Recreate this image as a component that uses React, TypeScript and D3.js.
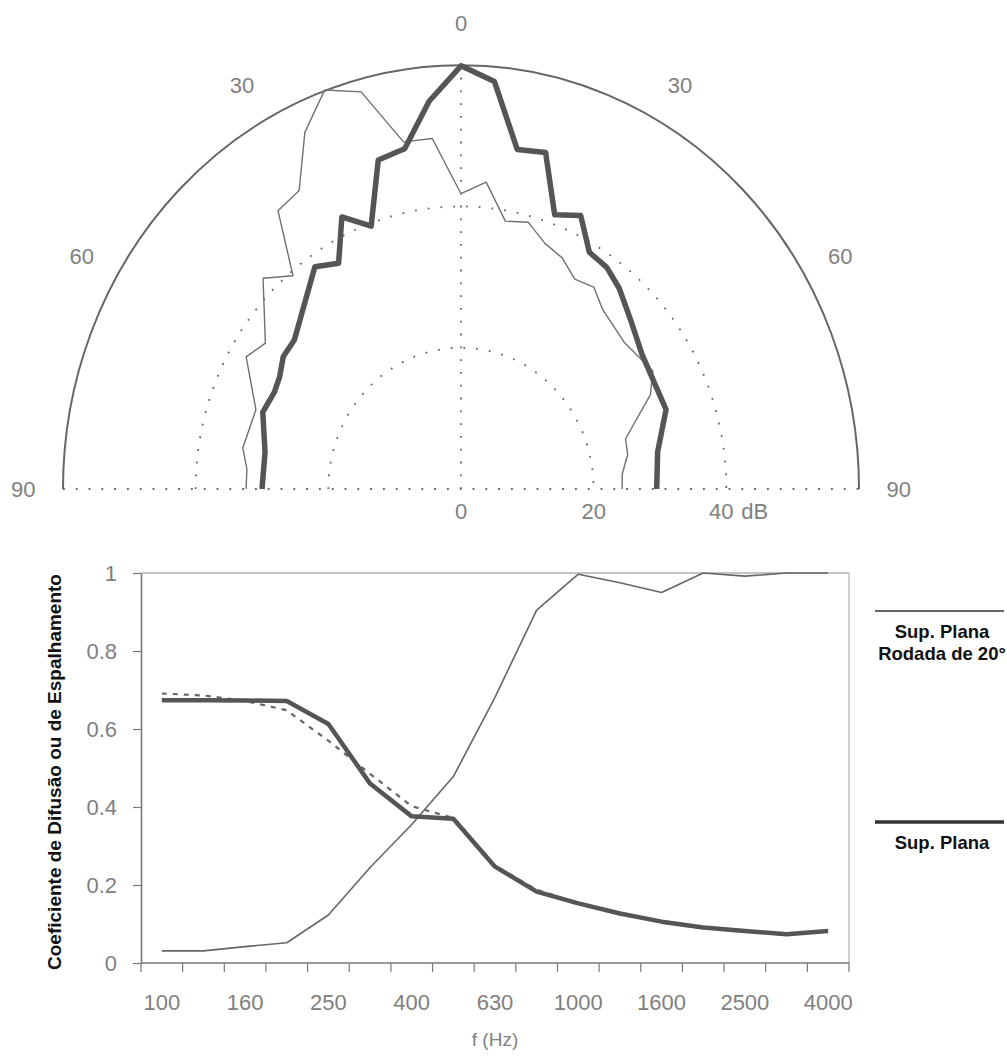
import React, { useEffect, useRef } from "react";
import * as d3 from "d3";

// polar diagram: angle (deg) and level (dB)
const planaAngles = [-90, -80, -70, -64, -60, -55, -50, -35, -30, -25, -20, -15, -10, -5, 0, 5, 10, 15, 20, 25, 30, 35, 40, 47, 55, 63, 70, 80, 90];
const planaDb = [30.0, 30.0, 31.8, 31.3, 31.6, 32.7, 32.8, 38.4, 36.9, 42.5, 39.6, 48.2, 48.9, 55.1, 59.9, 57.9, 48.8, 49.3, 41.3, 42.7, 38.7, 38.3, 37.1, 35.0, 33.3, 32.8, 32.9, 30.1, 29.5];

const rodadaAngles = [-90, -85, -80, -70, -60, -55, -45, -40, -35, -30, -25, -20, -15, -10, -5, 0, 5, 10, 15, 20, 25, 30, 35, 40, 50, 56, 60, 65, 74, 79, 85, 90];
const rodadaDb = [32.4, 32.4, 33.4, 32.9, 37.4, 36.0, 42.2, 39.4, 48.1, 48.8, 55.7, 60.1, 58.2, 49.9, 49.8, 41.8, 43.6, 38.5, 39.1, 37.0, 36.1, 34.3, 34.9, 33.2, 32.2, 32.8, 33.4, 31.5, 25.8, 25.6, 24.4, 24.3];

const angleLabels = [-90, -60, -30, 0, 30, 60, 90];
const dbRings = [20, 40];
const dbLabels = [0, 20, 40];

// diffusion coefficient per third-octave band
const bands = ["100", "125", "160", "200", "250", "315", "400", "500", "630", "800", "1000", "1250", "1600", "2000", "2500", "3150", "4000"];
const rodadaCoef = [0.031, 0.031, 0.042, 0.052, 0.123, 0.245, 0.355, 0.478, 0.681, 0.905, 0.997, 0.975, 0.95, 1.0, 0.992, 1.0, 1.0];
const planaCoef = [0.674, 0.674, 0.673, 0.672, 0.613, 0.46, 0.376, 0.37, 0.247, 0.183, 0.153, 0.127, 0.106, 0.091, 0.082, 0.074, 0.082];
const dashedCoef = [0.691, 0.686, 0.672, 0.648, 0.57, 0.485, 0.402, 0.372, 0.25, 0.188, 0.153, 0.127, 0.106, 0.091, 0.082, 0.074, 0.082];
const yTicks = [0, 0.2, 0.4, 0.6, 0.8, 1];
const bandLabels = ["100", "160", "250", "400", "630", "1000", "1600", "2500", "4000"];

const FONT = "'Liberation Sans', Arial, sans-serif";

export default function App() {
  const ref = useRef<SVGSVGElement>(null);

  useEffect(() => {
    const svg = d3.select(ref.current);
    svg.selectAll("*").remove();

    // ---------- polar ----------
    const cx = 461, cy = 489, stretch = 1.065;
    const r = d3.scaleLinear().domain([0, 60]).range([0, 398]);
    const rad = (a: number) => (a * Math.PI) / 180;

    const pg = svg.append("g").attr("transform", `translate(${cx},${cy}) scale(1,${stretch})`);

    const outer = d3.path();
    outer.arc(0, 0, r(60), Math.PI, 2 * Math.PI);
    pg.append("path").attr("d", outer.toString()).attr("fill", "none")
      .attr("stroke", "#666").attr("stroke-width", 2).attr("vector-effect", "non-scaling-stroke");

    dbRings.forEach(db => {
      const p = d3.path();
      p.arc(0, 0, r(db), Math.PI, 2 * Math.PI);
      pg.append("path").attr("d", p.toString()).attr("fill", "none")
        .attr("stroke", "#666").attr("stroke-width", 1.8).attr("stroke-dasharray", "1.8,11")
        .attr("vector-effect", "non-scaling-stroke");
    });

    pg.append("line").attr("x1", -r(60)).attr("x2", r(60)).attr("y1", 0).attr("y2", 0)
      .attr("stroke", "#666").attr("stroke-width", 1.8).attr("stroke-dasharray", "1.8,11")
      .attr("vector-effect", "non-scaling-stroke");
    pg.append("line").attr("x1", 0).attr("x2", 0).attr("y1", 0).attr("y2", -r(60))
      .attr("stroke", "#666").attr("stroke-width", 1.8).attr("stroke-dasharray", "1.8,11")
      .attr("vector-effect", "non-scaling-stroke");

    const radial = d3.lineRadial<[number, number]>()
      .angle(d => rad(d[0]))
      .radius(d => r(d[1]));

    pg.append("path").attr("d", radial(d3.zip(rodadaAngles, rodadaDb) as [number, number][]))
      .attr("fill", "none").attr("stroke", "#707070").attr("stroke-width", 1.4)
      .attr("stroke-linejoin", "round").attr("vector-effect", "non-scaling-stroke");
    pg.append("path").attr("d", radial(d3.zip(planaAngles, planaDb) as [number, number][]))
      .attr("fill", "none").attr("stroke", "#555").attr("stroke-width", 5.5)
      .attr("stroke-linejoin", "round").attr("vector-effect", "non-scaling-stroke");

    svg.selectAll(".angle-label").data(angleLabels).join("text")
      .attr("class", "angle-label")
      .attr("x", d => cx + r(66) * Math.sin(rad(d)))
      .attr("y", d => cy - r(66) * Math.cos(rad(d)) * stretch)
      .attr("dy", "0.36em")
      .attr("text-anchor", "middle")
      .attr("font-family", FONT).attr("font-size", 22).attr("fill", "#808080")
      .text(d => String(Math.abs(d)));

    svg.selectAll(".db-label").data(dbLabels).join("text")
      .attr("class", "db-label")
      .attr("x", d => cx + r(d) - (d === 40 ? 5 : 0))
      .attr("y", 519)
      .attr("text-anchor", "middle")
      .attr("font-family", FONT).attr("font-size", 22).attr("fill", "#808080")
      .text(d => String(d));
    svg.append("text").attr("x", cx + r(40) + 15).attr("y", 519)
      .attr("font-family", FONT).attr("font-size", 22).attr("fill", "#808080").text("dB");

    // ---------- coefficient chart ----------
    const left = 141, right = 849, top = 573, bottom = 963;
    const x = d3.scaleBand().domain(bands).range([left, right]).padding(0);
    const y = d3.scaleLinear().domain([0, 1]).range([bottom, top]);
    const cxb = (b: string) => (x(b) as number) + x.bandwidth() / 2;

    // frame
    svg.append("line").attr("x1", left).attr("x2", right).attr("y1", top).attr("y2", top)
      .attr("stroke", "#b0b0b0").attr("stroke-width", 1.5);
    svg.append("line").attr("x1", right).attr("x2", right).attr("y1", top).attr("y2", bottom)
      .attr("stroke", "#c0c0c0").attr("stroke-width", 1.5);

    const yAxis = svg.append("g").attr("transform", `translate(${left},0)`)
      .call(d3.axisLeft(y).tickValues(yTicks).tickSize(8).tickSizeOuter(0).tickPadding(16)
        .tickFormat(d => (+d === 0 || +d === 1 ? String(d) : (+d).toFixed(1))));
    yAxis.select(".domain").attr("stroke", "#777").attr("stroke-width", 1.6);
    yAxis.selectAll(".tick line").attr("stroke", "#777").attr("stroke-width", 1.2);
    yAxis.selectAll(".tick text").attr("font-family", FONT).attr("font-size", 22).attr("fill", "#808080");

    svg.append("line").attr("x1", left).attr("x2", right).attr("y1", bottom).attr("y2", bottom)
      .attr("stroke", "#777").attr("stroke-width", 1.6);
    const edges = bands.map(b => x(b) as number).concat([right]);
    svg.selectAll(".xtick").data(edges).join("line").attr("class", "xtick")
      .attr("x1", d => d).attr("x2", d => d).attr("y1", bottom).attr("y2", bottom + 9)
      .attr("stroke", "#777").attr("stroke-width", 1.2);
    svg.selectAll(".xlabel").data(bandLabels).join("text").attr("class", "xlabel")
      .attr("x", d => cxb(d)).attr("y", 1010)
      .attr("text-anchor", "middle")
      .attr("font-family", FONT).attr("font-size", 22).attr("fill", "#808080")
      .text(d => d);
    svg.append("text").attr("x", (left + right) / 2).attr("y", 1046)
      .attr("text-anchor", "middle")
      .attr("font-family", FONT).attr("font-size", 19).attr("fill", "#808080")
      .text("f (Hz)");

    svg.append("text")
      .attr("transform", `translate(61,${(top + bottom) / 2 + 4}) rotate(-90)`)
      .attr("text-anchor", "middle")
      .attr("font-family", FONT).attr("font-size", 19).attr("font-weight", "bold").attr("fill", "#111")
      .text("Coeficiente de Difusão ou de Espalhamento");

    const line = d3.line<number>()
      .x((_, i) => cxb(bands[i]))
      .y(d => y(d));

    svg.append("path").attr("d", line(dashedCoef)).attr("fill", "none")
      .attr("stroke", "#666").attr("stroke-width", 2.2).attr("stroke-dasharray", "5,6");
    svg.append("path").attr("d", line(rodadaCoef)).attr("fill", "none")
      .attr("stroke", "#666").attr("stroke-width", 1.6).attr("stroke-linejoin", "round");
    svg.append("path").attr("d", line(planaCoef)).attr("fill", "none")
      .attr("stroke", "#555").attr("stroke-width", 4.5).attr("stroke-linejoin", "round");

    // legend
    const legend = [
      { y: 611, width: 1.6, lines: ["Sup. Plana", "Rodada de 20°"] },
      { y: 822, width: 3.5, lines: ["Sup. Plana"] },
    ];
    legend.forEach(l => {
      svg.append("line").attr("x1", 875).attr("x2", 1004).attr("y1", l.y).attr("y2", l.y)
        .attr("stroke", "#333").attr("stroke-width", l.width);
      l.lines.forEach((t, i) => {
        svg.append("text").attr("x", 942).attr("y", l.y + 27 + i * 22)
          .attr("text-anchor", "middle")
          .attr("font-family", FONT).attr("font-size", 18.5).attr("font-weight", "bold").attr("fill", "#111")
          .text(t);
      });
    });
  }, []);

  return (
    <svg ref={ref} width={1007} height={1059}
      style={{ position: "absolute", left: 0, top: 0, background: "#fff" }} />
  );
}
